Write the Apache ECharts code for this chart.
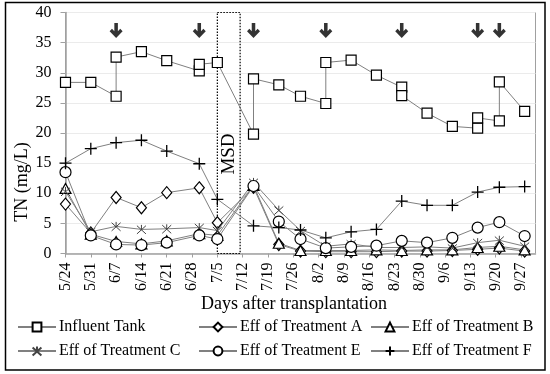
<!DOCTYPE html>
<html>
<head>
<meta charset="utf-8">
<script src="https://cdn.jsdelivr.net/npm/echarts@6/dist/echarts.min.js"></script>
<style>html,body{margin:0;padding:0;background:#fff}#c{width:550px;height:374px}</style>
</head>
<body>
<div id="c"></div>
<script>
// x positions are days after 5/24
const tickLabels = ['5/24','5/31','6/7','6/14','6/21','6/28','7/5','7/12','7/19','7/26','8/2','8/9','8/16','8/23','8/30','9/6','9/13','9/20','9/27'];
const influentDays = [0,7,14,14,21,28,37,37,42,52,52,59,65,72,72,79,86,93,93,100,107,114,114,120,120,127];
const influentTank = [28.4,28.4,26.1,32.6,33.5,32.0,30.3,31.4,31.7,19.8,29.0,28.0,26.1,24.9,31.7,32.1,29.6,27.6,26.2,23.3,21.1,20.8,22.5,22.0,28.5,23.6];
const effDays = [0,7,14,21,28,37,42,52,59,65,72,79,86,93,100,107,114,120,127];
const effA = [8.2,3.4,9.3,7.6,10.1,10.9,5.1,11.0,1.5,0.4,0.3,0.3,0.3,0.4,0.4,0.5,0.7,0.9,0.4];
const effB = [10.8,3.2,2.0,1.6,2.1,3.3,3.0,11.3,1.7,0.5,0.5,0.5,0.6,0.5,0.6,0.6,1.0,1.2,0.6];
const effC = [10.3,3.6,4.5,4.0,4.1,4.3,3.8,11.8,7.2,3.8,1.2,1.6,1.0,1.0,1.1,0.9,1.8,2.2,1.2];
const effE = [13.5,3.0,1.5,1.4,1.8,3.0,2.4,11.2,5.3,2.4,0.9,1.1,1.3,2.1,1.8,2.6,4.3,5.2,2.9];
const effF = [15.0,17.4,18.4,18.8,17.0,14.9,9.0,4.6,4.3,3.9,2.6,3.6,4.0,8.7,8.0,8.0,10.2,11.0,11.1];
const arrowDays = [14,37,52,72,93,114,120];
const arrowLevel = 37.0;
const msdRange = [42, 48.3];

const FONT = '"Liberation Serif","Times New Roman",serif';
const pair = (xs, ys) => xs.map((x, i) => [x, ys[i]]);
const lineGray = '#808080';

function mkSeries(name, xs, ys, symbol, size, border) {
  return {
    name, type: 'line', data: pair(xs, ys), symbol, symbolSize: size,
    showAllSymbol: true,
    lineStyle: { color: lineGray, width: 1 },
    itemStyle: { color: '#fff', borderColor: border || '#000', borderWidth: 1.2 },
    emphasis: { disabled: true }, z: 3
  };
}
const plusPath = 'path://M0,-1L0,1M-1,0L1,0';
const starPath = 'path://M-1,-1L1,1M1,-1L-1,1M0,-1.2L0,0';
const arrowPath = 'path://M4,0H7V6.5L9,4.5L11,6.5L5.5,12L0,6.5L2,4.5L4,6.5Z';

const series = [
  mkSeries('Influent Tank', influentDays, influentTank, 'rect', 10),
  mkSeries('Eff of Treatment A', effDays, effA, 'diamond', [10, 12]),
  mkSeries('Eff of Treatment B', effDays, effB, 'triangle', [11, 10]),
  Object.assign(mkSeries('Eff of Treatment C', effDays, effC, starPath, [9, 9], '#444'), {itemStyle:{color:'none',borderColor:'#444',borderWidth:1}}),
  mkSeries('Eff of Treatment E', effDays, effE, 'circle', 11),
  Object.assign(mkSeries('Eff of Treatment F', effDays, effF, plusPath, [12, 12]), {itemStyle:{color:'none',borderColor:'#000',borderWidth:1.3}}),
  {
    name: 'arrows', type: 'scatter', data: arrowDays.map(d => [d, arrowLevel]),
    symbol: arrowPath, symbolSize: [13, 15], itemStyle: { color: '#000' }, silent: true, z: 4
  }
];
series[0].markArea = {
  silent: true,
  itemStyle: { color: 'rgba(0,0,0,0)', borderColor: '#000', borderWidth: 1.2, borderType: [1.5, 1.5] },
  data: [[{ xAxis: msdRange[0], yAxis: 40 }, { xAxis: msdRange[1], yAxis: 0 }]]
};

function legendCol(left, names) {
  return {
    orient: 'vertical', left, top: 314, itemGap: 8, itemWidth: 38, itemHeight: 11,
    data: names, selectedMode: false,
    textStyle: { fontFamily: FONT, fontSize: 16, color: '#000', padding: [0,0,0,-2] }
  };
}

const chart = echarts.init(document.getElementById('c'), null, { renderer: 'canvas' });
chart.setOption({
  animation: false,
  backgroundColor: '#fff',
  grid: { left: 65.5, right: 14.5, top: 12.5, bottom: 120.5, show: true, borderColor: '#a0a0a0', borderWidth: 1, outerBoundsMode: 'none' },
  xAxis: {
    type: 'value', min: 0, max: 130, interval: 7,
    axisLine: { show: true, lineStyle: { color: '#a0a0a0', width: 1.5 } },
    axisTick: { show: true, length: 4, lineStyle: { color: '#a0a0a0' } },
    splitLine: { show: false },
    axisLabel: {
      rotate: 90, margin: 9, fontFamily: FONT, fontSize: 16, color: '#000',
      showMaxLabel: false,
      formatter: v => (v % 7 === 0 && tickLabels[v / 7]) ? tickLabels[v / 7] : ''
    }
  },
  yAxis: {
    type: 'value', min: 0, max: 40, interval: 5,
    axisLine: { show: true, lineStyle: { color: '#a0a0a0', width: 1.5 } },
    axisTick: { show: true, length: 5, lineStyle: { color: '#a0a0a0' } },
    splitLine: { show: true, lineStyle: { color: '#ebebeb', width: 1 } },
    axisLabel: { margin: 14, fontFamily: FONT, fontSize: 16, color: '#000' }
  },
  legend: [
    legendCol(12, ['Influent Tank', 'Eff of Treatment C']),
    legendCol(193, ['Eff of Treatment A', 'Eff of Treatment E']),
    legendCol(365, ['Eff of Treatment B', 'Eff of Treatment F'])
  ],
  graphic: [
    { type: 'rect', shape: { x: 5.5, y: 2.5, width: 539.5, height: 367.5 }, style: { fill: 'none', stroke: '#000', lineWidth: 1.5 }, silent: true, z: 0 },
    { type: 'text', x: 22, y: 182, rotation: Math.PI / 2, style: { text: 'TN (mg/L)', font: '18px ' + FONT, fill: '#000', align: 'center', verticalAlign: 'middle' } },
    { type: 'text', x: 294, y: 304, style: { text: 'Days after transplantation', font: '18px ' + FONT, fill: '#000', align: 'center', verticalAlign: 'middle' } },
    { type: 'text', x: 229, y: 154, rotation: Math.PI / 2, style: { text: 'MSD', font: '19px ' + FONT, fill: '#000', align: 'center', verticalAlign: 'middle' }, z: 10 }
  ],
  series
});
</script>
</body>
</html>
